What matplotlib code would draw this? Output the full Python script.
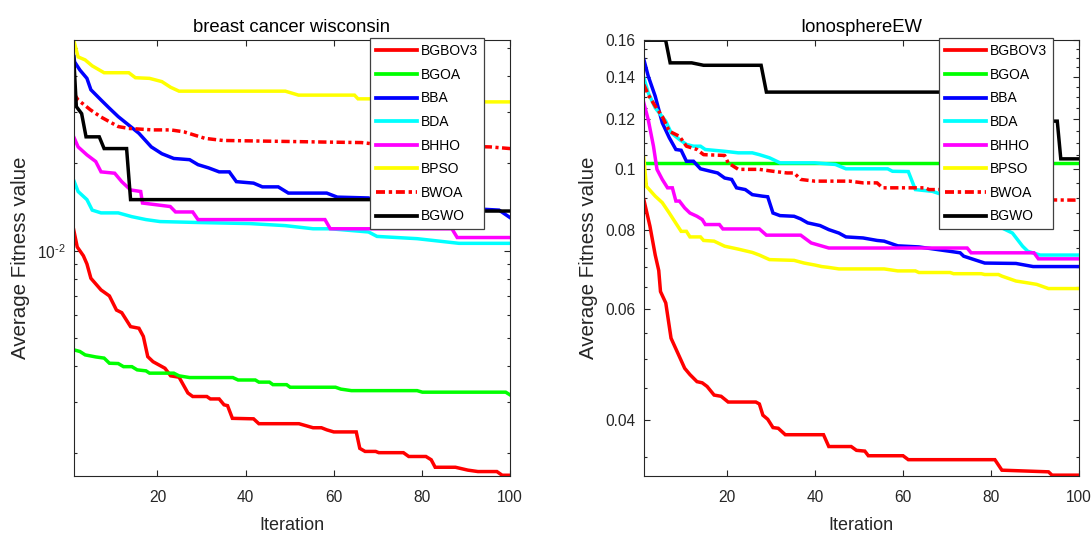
import numpy as np
import matplotlib
matplotlib.use('Agg')
import matplotlib.pyplot as plt
from matplotlib.ticker import FixedLocator, NullFormatter, FuncFormatter

plt.rcParams['font.family'] = ['Liberation Sans', 'DejaVu Sans']
plt.rcParams['mathtext.fontset'] = 'custom'
plt.rcParams['mathtext.rm'] = 'Liberation Sans'
plt.rcParams['mathtext.it'] = 'Liberation Sans:italic'
plt.rcParams['mathtext.bf'] = 'Liberation Sans:bold'

names = ['BGBOV3', 'BGOA', 'BBA', 'BDA', 'BHHO', 'BPSO', 'BWOA', 'BGWO']
colors = ['#FF0000', '#00FF00', '#0000FF', '#00FFFF', '#FF00FF', '#FFFF00', '#FF0000', '#000000']

# ---------------- breast cancer wisconsin ----------------
bc_BGBOV3_it = [1, 1.8, 3.2, 4, 4.9, 7.2, 9.1, 10.7, 11.9, 13.9, 15.8, 16.8, 17.8, 19, 21.7, 23, 24.9, 26.9, 28, 31.2,
                32, 34, 35.1, 35.9, 37, 41.8, 43, 52.1, 53.7, 55.3, 57.2, 58.4, 60, 65.1, 65.9, 67.1, 69.5, 70.2, 75.8,
                77, 80.9, 82.1, 83, 87.6, 90.4, 92.7, 97, 98.2, 100]
bc_BGBOV3 = [0.0118, 0.0103, 0.0096, 0.0090, 0.00803, 0.00732, 0.00698, 0.00624, 0.00611, 0.00547, 0.00540, 0.00506,
             0.00431, 0.00414, 0.00393, 0.00370, 0.00366, 0.00323, 0.00314, 0.00314, 0.00308, 0.00308, 0.00294, 0.00292,
             0.00264, 0.00263, 0.00253, 0.00253, 0.00249, 0.00245, 0.00245, 0.00241, 0.00237, 0.00237, 0.00208, 0.00203,
             0.00203, 0.00201, 0.00201, 0.00195, 0.00195, 0.00190, 0.00179, 0.00179, 0.00175, 0.00173, 0.00173, 0.00168,
             0.00168]

bc_BGOA_it = [1, 2.4, 3.6, 6, 7.9, 9.1, 11.1, 12.3, 14.2, 15.4, 17.4, 18.2, 23.7, 24.9, 27.3, 37.1, 38.3, 42.2, 43, 45.4,
              46.2, 49.3, 50.1, 60.4, 61.6, 64, 78.9, 80.1, 99, 100]
bc_BGOA = [0.00455, 0.00449, 0.00437, 0.00430, 0.00426, 0.00409, 0.00408, 0.00398, 0.00398, 0.00388, 0.00385, 0.00378,
           0.00378, 0.00370, 0.00365, 0.00365, 0.00358, 0.00358, 0.00352, 0.00352, 0.00345, 0.00345, 0.00338, 0.00338,
           0.00333, 0.00329, 0.00329, 0.00325, 0.00325, 0.00318]

bc_BBA_it = [1, 1.2, 2.4, 4, 4.9, 7.2, 9.1, 11.1, 13.5, 15.8, 18.6, 21, 23.7, 27.3, 29.2, 31.6, 34, 36.3, 37.9, 41.8,
             43.8, 47.4, 49.7, 58.4, 60.8, 67.9, 69.8, 80, 90, 97.5, 100]
bc_BBA = [0.0472, 0.0448, 0.0420, 0.0393, 0.0359, 0.0331, 0.0310, 0.0290, 0.0271, 0.0254, 0.0228, 0.0216, 0.0208,
          0.0206, 0.0198, 0.0193, 0.0187, 0.0187, 0.0173, 0.0171, 0.0166, 0.0166, 0.0158, 0.0158, 0.0153, 0.0152,
          0.0148, 0.0144, 0.0140, 0.0138, 0.0130]

bc_BDA_it = [1, 2, 4, 5.2, 7.2, 11.1, 14.2, 17.4, 20.6, 30, 41, 49, 55.3, 59.2, 67.9, 69.8, 78.9, 88.4, 100]
bc_BDA = [0.0175, 0.0160, 0.0150, 0.0138, 0.0135, 0.0135, 0.0131, 0.0128, 0.0126, 0.0125, 0.0124, 0.0122, 0.0119,
          0.0119, 0.0116, 0.0112, 0.0110, 0.0106, 0.0106]

bc_BHHO_it = [1, 2, 4, 6, 7.2, 10.3, 11.9, 13.9, 16.2, 16.6, 22.9, 24.1, 28, 29.2, 58, 59.2, 69.8, 86.8, 88, 100]
bc_BHHO = [0.0247, 0.0228, 0.0214, 0.0203, 0.0187, 0.0185, 0.0173, 0.0162, 0.0160, 0.0146, 0.0142, 0.0136, 0.0136,
           0.0128, 0.0128, 0.0119, 0.0119, 0.0119, 0.0111, 0.0111]

bc_BPSO_it = [1, 2, 3.6, 5.2, 7.9, 13.5, 15, 18.2, 21, 23, 24.9, 49, 52, 64.7, 65.5, 72, 73, 100]
bc_BPSO = [0.0533, 0.0466, 0.0455, 0.0434, 0.0411, 0.0411, 0.0395, 0.0393, 0.0383, 0.0366, 0.0355, 0.0355, 0.0344,
           0.0344, 0.0334, 0.0334, 0.0326, 0.0326]

bc_BWOA_it = [1, 2, 4.8, 7.2, 11.1, 13.5, 19, 23, 26, 30.8, 34.8, 57.6, 66.3, 69.5, 95.5, 100]
bc_BWOA = [0.0349, 0.0331, 0.0306, 0.0289, 0.0268, 0.0264, 0.0261, 0.0261, 0.0257, 0.0244, 0.0240, 0.0237, 0.0236,
           0.0233, 0.0228, 0.0225]

bc_BGWO_it = [1, 1.6, 2.8, 3.8, 6.8, 7.9, 13, 13.9, 80, 80.8, 100]
bc_BGWO = [0.0466, 0.0314, 0.0297, 0.0247, 0.0247, 0.0225, 0.0225, 0.0150, 0.0150, 0.0137, 0.0137]

# ---------------- IonosphereEW ----------------
io_BGBOV3_it = [1, 2.4, 3.6, 4.4, 4.8, 6, 7.2, 9.1, 10.3, 11.5, 13.1, 14.3, 15.4, 17, 18.6, 20.2, 26.5, 27.3, 28.1,
                29.2, 30.4, 31.6, 33.2, 41.9, 43.1, 48.2, 49.4, 51.3, 52.1, 60, 61.2, 80.9, 82.5, 93.1, 93.9, 100]
io_BGBOV3 = [0.0894, 0.0811, 0.0730, 0.0690, 0.0639, 0.0613, 0.0539, 0.0504, 0.0483, 0.0472, 0.0460, 0.0458, 0.0452,
             0.0438, 0.0436, 0.0427, 0.0427, 0.0424, 0.0407, 0.0401, 0.0389, 0.0388, 0.0379, 0.0379, 0.0363, 0.0363,
             0.0358, 0.0357, 0.0351, 0.0351, 0.0346, 0.0346, 0.0333, 0.0331, 0.0327, 0.0327]

io_BGOA_it = [1, 100]
io_BGOA = [0.1022, 0.1022]

io_BBA_it = [1, 2, 3.6, 5.2, 6.8, 8.3, 9.5, 10.7, 12.3, 13.9, 16.2, 17.8, 19.4, 21, 22.1, 24.1, 25.7, 28, 29.2, 30.4,
             32, 35.2, 36.7, 38.3, 41.1, 43.1, 45.4, 47, 50.9, 54.1, 55.7, 58.8, 63.6, 70.7, 73, 73.8, 78.6, 85.7,
             89.6, 100]
io_BBA = [0.1491, 0.1403, 0.1303, 0.1183, 0.1120, 0.1073, 0.1070, 0.1028, 0.1028, 0.1000, 0.0991, 0.0985, 0.0967,
          0.0962, 0.0933, 0.0927, 0.0910, 0.0905, 0.0903, 0.0851, 0.0843, 0.0841, 0.0833, 0.0821, 0.0813, 0.0801,
          0.0791, 0.0780, 0.0777, 0.0770, 0.0768, 0.0755, 0.0752, 0.0740, 0.0736, 0.0727, 0.0709, 0.0708, 0.0700,
          0.0700]

io_BDA_it = [1, 2, 3.6, 4.8, 6, 7.2, 9.1, 10.7, 12.3, 13.9, 15, 19.4, 22.5, 25.7, 27.3, 29.6, 32, 39.9, 44.6, 47, 56.5,
             57.6, 61.2, 62.8, 66.7, 70, 76, 81.7, 84.9, 87.2, 88.4, 91.2, 100]
io_BDA = [0.1394, 0.1320, 0.1249, 0.1219, 0.1190, 0.1141, 0.1113, 0.1093, 0.1086, 0.1086, 0.1073, 0.1066, 0.1060,
          0.1060, 0.1053, 0.1041, 0.1022, 0.1022, 0.1016, 0.1000, 0.1000, 0.0991, 0.0990, 0.0927, 0.0921, 0.0905,
          0.0870, 0.0811, 0.0791, 0.0754, 0.0740, 0.0730, 0.0730]

io_BHHO_it = [1, 2, 3.2, 4, 5.2, 6.4, 7.5, 8.3, 9.1, 10.3, 11.5, 13.1, 14.3, 15, 18.2, 19, 27.3, 28.9, 36.7, 39.1,
              43.1, 74.6, 75.5, 89.8, 90.8, 100]
io_BHHO = [0.1272, 0.1197, 0.1086, 0.0998, 0.0962, 0.0933, 0.0933, 0.0889, 0.0889, 0.0867, 0.0851, 0.0841, 0.0831,
           0.0816, 0.0816, 0.0803, 0.0803, 0.0785, 0.0785, 0.0763, 0.0749, 0.0749, 0.0736, 0.0736, 0.0720, 0.0720]

io_BPSO_it = [1, 1.6, 3.6, 5.2, 6.8, 8, 9.5, 10.7, 11.5, 13.9, 14.6, 17, 19.4, 22.5, 25.7, 27.3, 29.6, 35.2, 37.5,
              39.9, 41.5, 43, 45.4, 55.7, 58.8, 62.8, 63.6, 70.7, 71.5, 77.8, 78.6, 81.7, 82.5, 85.7, 88.1, 90.4, 93.1,
              100]
io_BPSO = [0.1041, 0.0938, 0.0905, 0.0884, 0.0851, 0.0826, 0.0796, 0.0796, 0.0780, 0.0780, 0.0770, 0.0768, 0.0754,
           0.0746, 0.0737, 0.0730, 0.0718, 0.0716, 0.0709, 0.0704, 0.0700, 0.0698, 0.0694, 0.0694, 0.0689, 0.0689,
           0.0685, 0.0685, 0.0682, 0.0682, 0.0680, 0.0680, 0.0676, 0.0664, 0.0660, 0.0656, 0.0646, 0.0646]

io_BWOA_it = [1, 2, 3.6, 5.2, 6.8, 9.1, 10.7, 13.1, 14.6, 19.4, 20.2, 22.5, 27.3, 30.4, 33.6, 35.2, 36.7, 39.9, 47.8,
              50.9, 54.1, 55.3, 65.1, 65.9, 80, 81, 100]
io_BWOA = [0.1360, 0.1311, 0.1257, 0.1211, 0.1147, 0.1126, 0.1086, 0.1073, 0.1053, 0.1050, 0.1022, 0.0998, 0.0998,
           0.0991, 0.0985, 0.0985, 0.0962, 0.0956, 0.0956, 0.0950, 0.0950, 0.0933, 0.0933, 0.0927, 0.0927, 0.0894,
           0.0892]

io_BGWO_it = [1, 5.97, 7, 11.9, 14.6, 27.7, 28.9, 88, 88.8, 95.1, 95.9, 100]
io_BGWO = [0.1599, 0.1599, 0.1472, 0.1472, 0.1459, 0.1459, 0.1323, 0.1323, 0.1190, 0.1190, 0.1037, 0.1037]

bc_series = [(bc_BGBOV3_it, bc_BGBOV3), (bc_BGOA_it, bc_BGOA), (bc_BBA_it, bc_BBA), (bc_BDA_it, bc_BDA),
             (bc_BHHO_it, bc_BHHO), (bc_BPSO_it, bc_BPSO), (bc_BWOA_it, bc_BWOA), (bc_BGWO_it, bc_BGWO)]
io_series = [(io_BGBOV3_it, io_BGBOV3), (io_BGOA_it, io_BGOA), (io_BBA_it, io_BBA), (io_BDA_it, io_BDA),
             (io_BHHO_it, io_BHHO), (io_BPSO_it, io_BPSO), (io_BWOA_it, io_BWOA), (io_BGWO_it, io_BGWO)]

x_ticks = [20, 40, 60, 80, 100]
bc_yticks = [0.01]
bc_yticklabels = [r'$10^{\text{-2}}$']
io_yticks = [0.04, 0.06, 0.08, 0.1, 0.12, 0.14, 0.16]

W, H = 1091, 536
fig = plt.figure(figsize=(W / 100, H / 100), dpi=100)
ax1 = fig.add_axes([73.7 / W, 1 - 476 / H, 436.4 / W, 436 / H])
ax2 = fig.add_axes([643.8 / W, 1 - 476 / H, 435.0 / W, 436 / H])

LW = 2.5
axcol = '#262626'
for ax, series, title in [(ax1, bc_series, 'breast cancer wisconsin'), (ax2, io_series, 'IonosphereEW')]:
    for (it, v), nm, c in zip(series, names, colors):
        if nm == 'BWOA':
            ax.plot(it, v, color=c, lw=LW, linestyle=(0, (2.4, 1.0, 0.9, 1.0)), label=nm,
                    solid_joinstyle='miter', dash_capstyle='butt')
        else:
            ax.plot(it, v, color=c, lw=LW, label=nm, solid_joinstyle='miter')
    ax.set_yscale('log')
    ax.set_xlim(1, 100)
    ax.set_xticks(x_ticks)
    ax.set_title(title, fontsize=13.3, pad=6, color='black')
    ax.set_xlabel('Iteration', fontsize=13, labelpad=9, color=axcol)
    ax.set_ylabel('Average Fitness value', fontsize=14.8, color=axcol)
    for s in ax.spines.values():
        s.set_linewidth(0.8)
        s.set_color(axcol)
    ax.tick_params(which='both', direction='in', top=True, right=True, colors=axcol, labelcolor=axcol,
                   width=0.8)
    ax.tick_params(which='major', length=4.5, labelsize=11.2)
    ax.tick_params(which='minor', length=2.5)
    ax.tick_params(axis='x', which='major', pad=10)
    ax.tick_params(axis='y', which='major', pad=6)
    leg = ax.legend(loc='upper right', fontsize=10, labelspacing=0.69, handlelength=2.95, handletextpad=0.3,
                    borderpad=0.42, borderaxespad=0, fancybox=False, framealpha=1, edgecolor='#404040')
    leg.get_frame().set_linewidth(0.9)
    for ln in leg.get_lines():
        ln.set_linewidth(2.7)
    leg.set_bbox_to_anchor((1 - 26 / 436, 1.0035), transform=ax.transAxes)

ax1.set_ylim(0.00167, 0.0533)
ax1.yaxis.set_major_locator(FixedLocator(bc_yticks))
ax1.set_yticklabels(bc_yticklabels)
ax1.yaxis.set_minor_locator(FixedLocator([k * 1e-3 for k in range(2, 10)] + [k * 1e-2 for k in range(2, 6)]))
ax1.yaxis.set_minor_formatter(NullFormatter())
ax1.yaxis.set_label_coords(-43.7 / 436.4, 0.5)

ax2.set_ylim(0.0326, 0.16)
ax2.yaxis.set_major_locator(FixedLocator(io_yticks))
ax2.yaxis.set_major_formatter(FuncFormatter(lambda v, p: '%g' % v))
minor = [m / 1000 for m in range(35, 160, 5) if m % 20 != 0]
ax2.yaxis.set_minor_locator(FixedLocator(minor))
ax2.yaxis.set_minor_formatter(NullFormatter())
ax2.yaxis.set_label_coords(-45.8 / 435.0, 0.5)

fig.savefig('out.png', dpi=100, facecolor='white')
